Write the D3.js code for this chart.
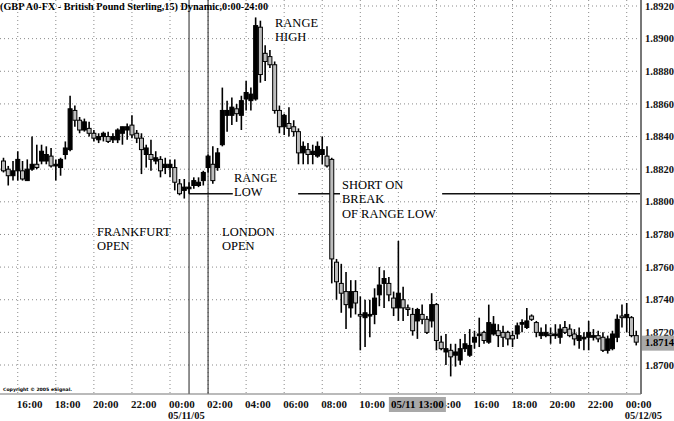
<!DOCTYPE html>
<html><head><meta charset="utf-8">
<script src="https://cdn.jsdelivr.net/npm/d3@7"></script>
<style>body{margin:0;background:#fff}svg{display:block}</style>
</head><body><svg id="c" width="674" height="421"></svg>
<script>
const title = "(GBP A0-FX - British Pound Sterling,15) Dynamic,0:00-24:00";
const firstBar = Date.UTC(2005,4,10,15,15);
const barMinutes = 15;
const opens = [1.8825,1.8820,1.8816,1.8819,1.8819,1.8813,1.8820,1.8823,1.8825,1.8825,
1.8828,1.8822,1.8821,1.8829,1.8832,1.8856,1.8850,1.8844,1.8845,1.8842,
1.8838,1.8840,1.8840,1.8838,1.8838,1.8842,1.8844,1.8847,1.8842,1.8839,
1.8829,1.8829,1.8825,1.8826,1.8821,1.8821,1.8821,1.8811,1.8807,1.8808,
1.8810,1.8810,1.8813,1.8821,1.8823,1.8821,1.8835,1.8853,1.8853,1.8857,
1.8853,1.8863,1.8862,1.8863,1.8907,1.8891,1.8889,1.8884,1.8856,1.8846,
1.8848,1.8846,1.8843,1.8830,1.8832,1.8829,1.8828,1.8829,1.8828,1.8826,
1.8763,1.8750,1.8745,1.8735,1.8745,1.8731,1.8729,1.8730,1.8731,1.8743,
1.8750,1.8750,1.8741,1.8735,1.8740,1.8735,1.8731,1.8727,1.8731,1.8728,
1.8727,1.8737,1.8714,1.8708,1.8709,1.8706,1.8703,1.8710,1.8706,1.8714,
1.8718,1.8720,1.8714,1.8719,1.8721,1.8720,1.8720,1.8718,1.8719,1.8725,
1.8723,1.8730,1.8726,1.8718,1.8718,1.8719,1.8718,1.8717,1.8723,1.8722,
1.8719,1.8715,1.8716,1.8717,1.8717,1.8718,1.8717,1.8709,1.8710,1.8717,
1.8730,1.8729,1.8729,1.8718];
const highs = [1.8827,1.8822,1.8825,1.8831,1.8825,1.8826,1.8840,1.8835,1.8835,1.8834,
1.8833,1.8826,1.8827,1.8837,1.8865,1.8859,1.8852,1.8851,1.8849,1.8844,
1.8842,1.8843,1.8843,1.8842,1.8845,1.8846,1.8848,1.8853,1.8844,1.8842,
1.8835,1.8838,1.8831,1.8828,1.8827,1.8826,1.8826,1.8814,1.8814,1.8812,
1.8815,1.8815,1.8819,1.8829,1.8834,1.8833,1.8870,1.8862,1.8864,1.8860,
1.8865,1.8874,1.8870,1.8913,1.8911,1.8896,1.8893,1.8886,1.8859,1.8854,
1.8858,1.8850,1.8845,1.8837,1.8836,1.8835,1.8837,1.8840,1.8834,1.8827,
1.8765,1.8762,1.8757,1.8752,1.8752,1.8742,1.8740,1.8740,1.8747,1.8760,
1.8758,1.8754,1.8745,1.8776,1.8748,1.8737,1.8735,1.8735,1.8737,1.8730,
1.8744,1.8738,1.8718,1.8719,1.8713,1.8713,1.8716,1.8719,1.8722,1.8721,
1.8729,1.8721,1.8737,1.8730,1.8725,1.8724,1.8721,1.8721,1.8726,1.8728,
1.8735,1.8731,1.8727,1.8723,1.8725,1.8723,1.8725,1.8725,1.8727,1.8725,
1.8722,1.8723,1.8720,1.8727,1.8722,1.8721,1.8720,1.8718,1.8721,1.8731,
1.8737,1.8738,1.8730,1.8721];
const lows = [1.8818,1.8810,1.8813,1.8813,1.8813,1.8813,1.8819,1.8820,1.8823,1.8823,
1.8821,1.8813,1.8816,1.8826,1.8831,1.8846,1.8842,1.8843,1.8840,1.8837,
1.8836,1.8837,1.8836,1.8836,1.8836,1.8835,1.8838,1.8839,1.8836,1.8817,
1.8821,1.8819,1.8823,1.8815,1.8817,1.8815,1.8807,1.8804,1.8802,1.8805,
1.8808,1.8809,1.8810,1.8818,1.8811,1.8819,1.8834,1.8843,1.8847,1.8849,
1.8844,1.8856,1.8856,1.8862,1.8873,1.8874,1.8882,1.8854,1.8842,1.8841,
1.8840,1.8840,1.8823,1.8823,1.8823,1.8823,1.8827,1.8823,1.8821,1.8750,
1.8740,1.8732,1.8722,1.8729,1.8731,1.8709,1.8711,1.8717,1.8725,1.8736,
1.8735,1.8739,1.8730,1.8727,1.8727,1.8730,1.8718,1.8716,1.8725,1.8719,
1.8723,1.8709,1.8709,1.8700,1.8693,1.8699,1.8700,1.8708,1.8705,1.8710,
1.8711,1.8713,1.8713,1.8718,1.8711,1.8711,1.8712,1.8711,1.8716,1.8720,
1.8722,1.8727,1.8717,1.8716,1.8717,1.8713,1.8716,1.8713,1.8719,1.8717,
1.8712,1.8710,1.8709,1.8709,1.8715,1.8714,1.8708,1.8707,1.8709,1.8714,
1.8723,1.8720,1.8717,1.8712];
const closes = [1.8819,1.8816,1.8819,1.8826,1.8814,1.8820,1.8823,1.8821,1.8831,1.8829,
1.8822,1.8823,1.8826,1.8833,1.8857,1.8850,1.8844,1.8849,1.8842,1.8839,
1.8840,1.8842,1.8837,1.8840,1.8844,1.8846,1.8846,1.8841,1.8839,1.8832,
1.8833,1.8826,1.8827,1.8819,1.8823,1.8823,1.8812,1.8805,1.8809,1.8809,
1.8813,1.8812,1.8818,1.8828,1.8813,1.8830,1.8856,1.8856,1.8858,1.8854,
1.8862,1.8867,1.8866,1.8908,1.8878,1.8886,1.8884,1.8856,1.8846,1.8853,
1.8845,1.8843,1.8830,1.8834,1.8829,1.8831,1.8834,1.8832,1.8822,1.8765,
1.8751,1.8744,1.8737,1.8745,1.8738,1.8730,1.8732,1.8731,1.8741,1.8749,
1.8753,1.8743,1.8735,1.8744,1.8735,1.8734,1.8721,1.8734,1.8728,1.8720,
1.8737,1.8715,1.8710,1.8710,1.8705,1.8708,1.8710,1.8713,1.8712,1.8717,
1.8719,1.8715,1.8726,1.8725,1.8718,1.8717,1.8716,1.8716,1.8724,1.8726,
1.8727,1.8728,1.8720,1.8720,1.8720,1.8718,1.8719,1.8722,1.8720,1.8718,
1.8716,1.8718,1.8717,1.8720,1.8718,1.8716,1.8709,1.8716,1.8719,1.8728,
1.8729,1.8731,1.8718,1.8714];
const priceTicks = [1.8700,1.8720,1.8740,1.8760,1.8780,1.8800,1.8820,1.8840,1.8860,1.8880,1.8900,1.8920];
const lastPrice = 1.8714;
const rangeLow = 1.8805;
const sessionLines = [Date.UTC(2005,4,11,1,0), Date.UTC(2005,4,11,2,0)];
const cursorTime = Date.UTC(2005,4,11,13,0);
const cursorLabel = "05/11 13:00";
const copyright = "Copyright \u00A9 2005 eSignal.";

const W = 674, H = 421, plotR = 641, plotB = 394;
const svg = d3.select("#c");
const x = d3.scaleUtc().domain([Date.UTC(2005,4,10,15,4), Date.UTC(2005,4,12,0,45)]).range([0, plotR]);
const y = d3.scaleLinear().domain([1.8700, 1.8920]).range([365, 6]);

const bars = opens.map((o,i)=>({t:new Date(firstBar + i*barMinutes*60000), o, h:highs[i], l:lows[i], c:closes[i]}));

// grid
const g = svg.append("g");
g.selectAll("line.hg").data(priceTicks).join("line")
  .attr("x1",0).attr("x2",plotR).attr("y1",d=>y(d)).attr("y2",d=>y(d))
  .attr("stroke","#8a8a8a").attr("stroke-width",1).attr("stroke-dasharray","1,3");
const tTicks = d3.utcHour.every(2).range(new Date(Date.UTC(2005,4,10,16)), new Date(Date.UTC(2005,4,12,0,1)));
g.selectAll("line.vg").data(tTicks).join("line")
  .attr("x1",d=>x(d)).attr("x2",d=>x(d)).attr("y1",0).attr("y2",plotB)
  .attr("stroke","#8a8a8a").attr("stroke-width",1).attr("stroke-dasharray","1,3");

// session lines
svg.selectAll("line.sess").data(sessionLines).join("line")
  .attr("x1",d=>x(d)).attr("x2",d=>x(d)).attr("y1",0).attr("y2",plotB)
  .attr("stroke","#222").attr("stroke-width",1);

// range low line segments (gaps under text)
const segs = [[Date.UTC(2005,4,11,1,0), Date.UTC(2005,4,11,3,18)],
              [Date.UTC(2005,4,11,6,44), Date.UTC(2005,4,11,8,56)],
              [Date.UTC(2005,4,11,14,18), Date.UTC(2005,4,12,0,45)]];
svg.selectAll("line.rl").data(segs).join("line")
  .attr("x1",d=>x(d[0])).attr("x2",d=>x(d[1])).attr("y1",y(rangeLow)).attr("y2",y(rangeLow))
  .attr("stroke","#111").attr("stroke-width",1.5);

// candles
const cw = 4;
const cg = svg.append("g");
cg.selectAll("line.w").data(bars).join("line")
  .attr("x1",d=>x(d.t)).attr("x2",d=>x(d.t)).attr("y1",d=>y(d.h)).attr("y2",d=>y(d.l))
  .attr("stroke","#000").attr("stroke-width",1.6);
cg.selectAll("rect.b").data(bars).join("rect")
  .attr("x",d=>x(d.t)-cw/2).attr("width",cw)
  .attr("y",d=>y(Math.max(d.o,d.c)))
  .attr("height",d=>Math.max(1.5, y(Math.min(d.o,d.c))-y(Math.max(d.o,d.c))))
  .attr("fill",d=>d.c>d.o?"#000":"#bdbdbd").attr("stroke","#000").attr("stroke-width",1);

// right axis
svg.append("line").attr("x1",plotR).attr("x2",plotR).attr("y1",0).attr("y2",plotB)
  .attr("stroke","#777").attr("stroke-width",2);
svg.append("line").attr("x1",0).attr("x2",plotR).attr("y1",plotB).attr("y2",plotB)
  .attr("stroke","#777").attr("stroke-width",1.2);

const serifB = "'Liberation Serif','Times New Roman',serif";
svg.selectAll("text.yl").data(priceTicks).join("text")
  .attr("x",645).attr("y",d=>y(d)+3.6).text(d=>d.toFixed(4))
  .attr("font-family",serifB).attr("font-weight","bold").attr("font-size",10.5).attr("fill","#111");

// last price box
svg.append("rect").attr("x",642).attr("y",y(lastPrice)-6.5).attr("width",32).attr("height",15).attr("fill","#a8a8a8");
svg.append("text").attr("x",645).attr("y",y(lastPrice)+4.2).text(lastPrice.toFixed(4))
  .attr("font-family",serifB).attr("font-weight","bold").attr("font-size",10.5).attr("fill","#000");

// x labels (12:00 is fully hidden under the cursor label in the original; 14:00 partly)
const cx = x(cursorTime);
const fmt = d3.utcFormat("%H:%M");
const shownTicks = tTicks.filter(d=>!(x(d)<cx && cx-x(d)<25));
svg.selectAll("text.xl").data(shownTicks).join("text")
  .attr("x",d=>x(d)-1).attr("y",408).text(d=>fmt(d))
  .attr("font-family",serifB).attr("font-weight","bold").attr("font-size",11).attr("fill","#111");
const mids = tTicks.filter(d=>d.getUTCHours()===0);
svg.selectAll("text.dl").data(mids).join("text")
  .attr("x",d=>x(d)-2).attr("y",419).text(d=>d3.utcFormat("%m/%d/%y")(d))
  .attr("font-family",serifB).attr("font-weight","bold").attr("font-size",10.5).attr("fill","#111");

// cursor label
svg.append("rect").attr("x",cx-28.5).attr("y",397).attr("width",57).attr("height",15).attr("fill","#a8a8a8");
svg.append("text").attr("x",cx).attr("y",408).attr("text-anchor","middle").text(cursorLabel)
  .attr("font-family",serifB).attr("font-weight","bold").attr("font-size",11).attr("fill","#000");

// title
svg.append("text").attr("x",0).attr("y",10).text(title)
  .attr("font-family",serifB).attr("font-weight","bold").attr("font-size",10.5)
  .attr("textLength",268).attr("lengthAdjust","spacingAndGlyphs").attr("fill","#000");

// copyright
svg.append("text").attr("x",3).attr("y",391).text(copyright)
  .attr("font-family","'DejaVu Sans',sans-serif").attr("font-weight","bold").attr("font-size",4.5)
  .attr("textLength",69).attr("lengthAdjust","spacingAndGlyphs").attr("fill","#000");

// annotations
const notes = [
  {lines:["RANGE","HIGH"], x:275, y:27},
  {lines:["RANGE","LOW"], x:234, y:182},
  {lines:["SHORT ON","BREAK","OF RANGE LOW"], x:342, y:189},
  {lines:["FRANKFURT","OPEN"], x:97, y:236},
  {lines:["LONDON","OPEN"], x:222, y:236}
];
notes.forEach(n=>{
  const t = svg.append("text").attr("font-family","'Liberation Serif','Times New Roman',serif")
    .attr("font-size",12.5).attr("fill","#000");
  n.lines.forEach((s,i)=>t.append("tspan").attr("x",n.x).attr("y",n.y+i*14.3).text(s));
});
</script></body></html>
